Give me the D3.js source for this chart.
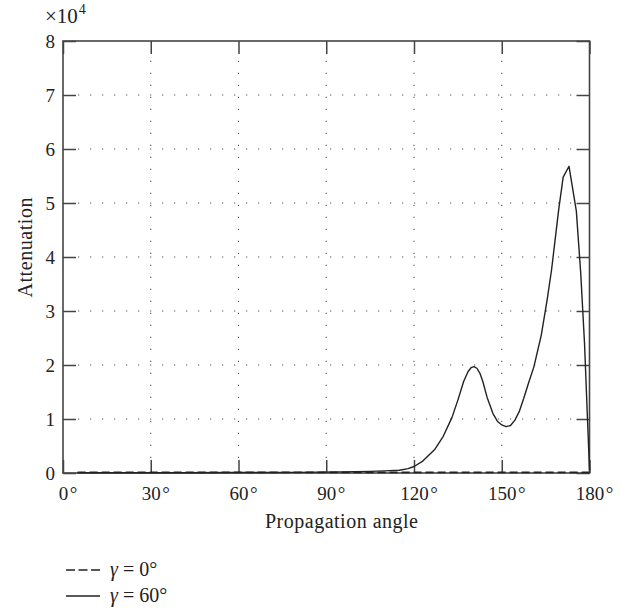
<!DOCTYPE html>
<html>
<head>
<meta charset="utf-8">
<script src="https://cdn.jsdelivr.net/npm/d3@7"></script>
<style>
html,body{margin:0;padding:0;background:#fff;}
svg{display:block;}
text{font-family:"Liberation Serif","DejaVu Serif",serif;fill:#222;}
</style>
</head>
<body>
<svg id="chart" width="620" height="612"></svg>
<script>
// Data (attenuation in units of 10^4, angle in degrees)
const xTicks = [0, 30, 60, 90, 120, 150, 180];
const yTicks = [0, 1, 2, 3, 4, 5, 6, 7, 8];
const seriesNames = ["γ = 0°", "γ = 60°"];
const gamma0Angles = [5, 30, 60, 90, 120, 150, 180];
const gamma0Values = [0.012, 0.012, 0.012, 0.012, 0.012, 0.012, 0.012];
const gamma60Angles = [5, 20, 40, 60, 80, 95, 105, 110, 115, 118, 120, 123, 127, 130, 133, 135, 137, 138.5, 139.5, 140.5, 141.5, 142.5, 143.5, 145, 147, 148.5, 150, 151.5, 153, 154.5, 156, 157.5, 159, 161, 163.5, 165.5, 167, 169.5, 171, 173, 175.5, 177, 178.3, 180];
const gamma60Values = [0.005, 0.005, 0.006, 0.008, 0.012, 0.02, 0.03, 0.04, 0.05, 0.08, 0.12, 0.22, 0.43, 0.68, 1.03, 1.35, 1.7, 1.88, 1.95, 1.97, 1.94, 1.85, 1.7, 1.4, 1.1, 0.96, 0.89, 0.86, 0.88, 0.98, 1.14, 1.38, 1.64, 1.97, 2.55, 3.2, 3.75, 4.89, 5.48, 5.68, 4.85, 3.7, 2.4, 0.05];

const svg = d3.select("#chart");
const L = 63, R = 589.5, T = 41, B = 473;
const x = d3.scaleLinear().domain([0, 180]).range([L, R]);
const y = d3.scaleLinear().domain([0, 8]).range([B, T]);
const tickLen = 13;
const axisColor = "#444";
const tickFont = "19px";
const titleFont = "20px";

// Grid
const grid = svg.append("g");
xTicks.slice(1, -1).forEach(t => {
  grid.append("line").attr("x1", x(t)).attr("x2", x(t)).attr("y1", B - tickLen - 2).attr("y2", T + tickLen + 2)
    .attr("stroke", "#555").attr("stroke-width", 1.1).attr("stroke-dasharray", "1.2,10.8");
});
yTicks.slice(1, -1).forEach(t => {
  grid.append("line").attr("x1", L + tickLen + 2).attr("x2", R - tickLen - 2).attr("y1", y(t)).attr("y2", y(t))
    .attr("stroke", "#555").attr("stroke-width", 1.1).attr("stroke-dasharray", "1.2,10.8");
});

// Axes via d3 (inside ticks)
const xAxisB = d3.axisBottom(x).tickValues(xTicks).tickSizeInner(-tickLen).tickSizeOuter(0).tickFormat(d => d).tickPadding(14);
const xAxisT = d3.axisTop(x).tickValues(xTicks).tickSizeInner(-tickLen).tickSizeOuter(0).tickFormat("");
const yAxisL = d3.axisLeft(y).tickValues(yTicks).tickSizeInner(-tickLen).tickSizeOuter(0).tickPadding(8);
const yAxisR = d3.axisRight(y).tickValues(yTicks).tickSizeInner(-tickLen).tickSizeOuter(0).tickFormat("");

function styleAxis(g) {
  g.select(".domain").remove();
  g.selectAll(".tick line").attr("stroke", axisColor).attr("stroke-width", 1.5);
  g.selectAll(".tick text").style("font-family", '"Liberation Serif", serif').style("font-size", tickFont).attr("fill", "#222");
}
const gxb = svg.append("g").attr("transform", `translate(0,${B})`).call(xAxisB).call(styleAxis);
svg.append("g").attr("transform", `translate(0,${T})`).call(xAxisT).call(styleAxis);
svg.append("g").attr("transform", `translate(${L},0)`).call(yAxisL).call(styleAxis);
svg.append("g").attr("transform", `translate(${R},0)`).call(yAxisR).call(styleAxis);

// number centred on tick, degree mark appended after it
gxb.selectAll(".tick text").each(function () {
  const txt = d3.select(this);
  const w = this.getComputedTextLength();
  txt.attr("text-anchor", "start").attr("x", -w / 2);
  txt.append("tspan").attr("dx", 1.5).text("°");
});

// Box
svg.append("rect").attr("x", L).attr("y", T).attr("width", R - L).attr("height", B - T)
  .attr("fill", "none").attr("stroke", axisColor).attr("stroke-width", 1.6);

// Lines
const line = d3.line().x(d => x(d[0])).y(d => y(d[1]));
const s0 = gamma0Angles.map((a, i) => [a, gamma0Values[i]]);
const s60 = gamma60Angles.map((a, i) => [a, gamma60Values[i]]);
svg.append("path").datum(s0).attr("d", line).attr("fill", "none").attr("stroke", "#222")
  .attr("stroke-width", 1.6).attr("stroke-dasharray", "8,4");
svg.append("path").datum(s60).attr("d", line).attr("fill", "none").attr("stroke", "#222")
  .attr("stroke-width", 1.4).attr("stroke-linejoin", "round");

// Axis labels
svg.append("text").attr("x", 341.5).attr("y", 527.5).attr("text-anchor", "middle")
  .attr("textLength", 153).attr("lengthAdjust", "spacing")
  .style("font-size", titleFont).text("Propagation angle");
svg.append("text").attr("transform", `translate(32,247.5) rotate(-90)`).attr("text-anchor", "middle")
  .attr("textLength", 100).attr("lengthAdjust", "spacing")
  .style("font-size", titleFont).text("Attenuation");
const mult = svg.append("text").attr("x", 45).attr("y", 23).style("font-size", "21px");
mult.append("tspan").text("×10");
mult.append("tspan").attr("dy", -9).attr("dx", 1).style("font-size", "14px").text("4");

// Legend
const legendY = [570, 596];
const dashes = ["8,4", null];
seriesNames.forEach((name, i) => {
  const ln = svg.append("line").attr("x1", 66).attr("x2", 100).attr("y1", legendY[i]).attr("y2", legendY[i])
    .attr("stroke", "#222").attr("stroke-width", 1.3);
  if (dashes[i]) ln.attr("stroke-dasharray", "9,3.5");
  const parts = name.split(" = ");
  const t = svg.append("text").attr("x", 110).attr("y", legendY[i] + 5.5).style("font-size", "20px");
  t.append("tspan").style("font-style", "italic").text(parts[0]);
  t.append("tspan").text(" = " + parts[1]);
});
</script>
</body>
</html>
